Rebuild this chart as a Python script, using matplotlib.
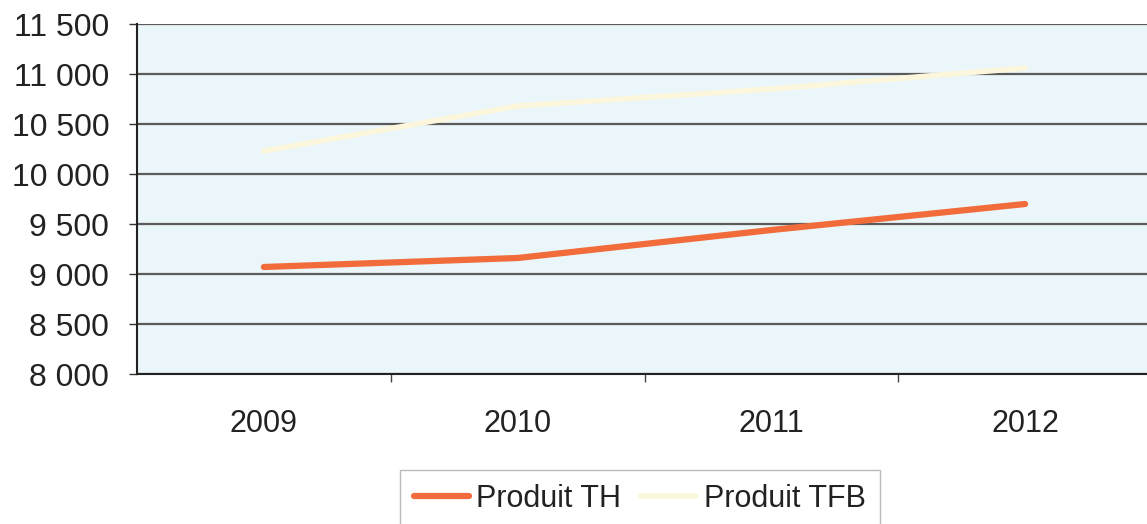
import numpy as np
import matplotlib.pyplot as plt
from matplotlib.ticker import FuncFormatter

plt.rcParams['font.family'] = ['Liberation Sans', 'DejaVu Sans']

years = ["2009", "2010", "2011", "2012"]
produit_th = [9070, 9160, 9440, 9700]
produit_tfb = [10230, 10680, 10850, 11060]
y_ticks = [8000, 8500, 9000, 9500, 10000, 10500, 11000, 11500]

fig = plt.figure(figsize=(11.47, 5.24), dpi=100)
ax = fig.add_axes([137/1147, 1 - 374/524, (1152 - 137)/1147, 350/524])
ax.set_facecolor("#eaf6f9")

x = np.arange(len(years))
ax.plot(x, produit_tfb, color="#fcf6dc", lw=4, solid_capstyle="round", label="Produit TFB")
ax.plot(x, produit_th, color="#f26b3a", lw=4.5, solid_capstyle="round", label="Produit TH", zorder=3)

ax.set_xlim(-0.5, 3.5)
ax.set_ylim(8000, 11500)
ax.set_yticks(y_ticks)
ax.yaxis.set_major_formatter(FuncFormatter(lambda v, p: f"{int(v):,}".replace(",", " ")))
ax.grid(axis="y", color="#5a5a5a", lw=1.6)
ax.set_axisbelow(True)

ax.set_xticks(x)
ax.set_xticklabels(years)
ax.set_xticks([0.5, 1.5, 2.5], minor=True)
ax.tick_params(axis="x", which="major", length=0, pad=25, labelsize=22, labelcolor="#222222")
ax.tick_params(axis="x", which="minor", length=6, width=1, color="#444444")
ax.tick_params(axis="y", length=6, width=1, labelsize=23, pad=14, color="#333333",
               labelcolor="#222222")

for s in ["top", "right"]:
    ax.spines[s].set_visible(False)
ax.spines["left"].set_color("#222222")
ax.spines["left"].set_linewidth(1.5)
ax.spines["bottom"].set_color("#222222")
ax.spines["bottom"].set_linewidth(1.5)

h, l = ax.get_legend_handles_labels()
leg = fig.legend(h[::-1], l[::-1], loc="upper left", bbox_to_anchor=(400/1147, 1 - 470/524),
                 ncol=2, frameon=True, fontsize=22, handlelength=1.8, handletextpad=0.25,
                 columnspacing=0.65, borderpad=0.45, borderaxespad=0, fancybox=False)
leg.get_frame().set_edgecolor("#aaaaaa")
for t in leg.get_texts():
    t.set_color("#222222")

fig.savefig("out.png", dpi=100)
